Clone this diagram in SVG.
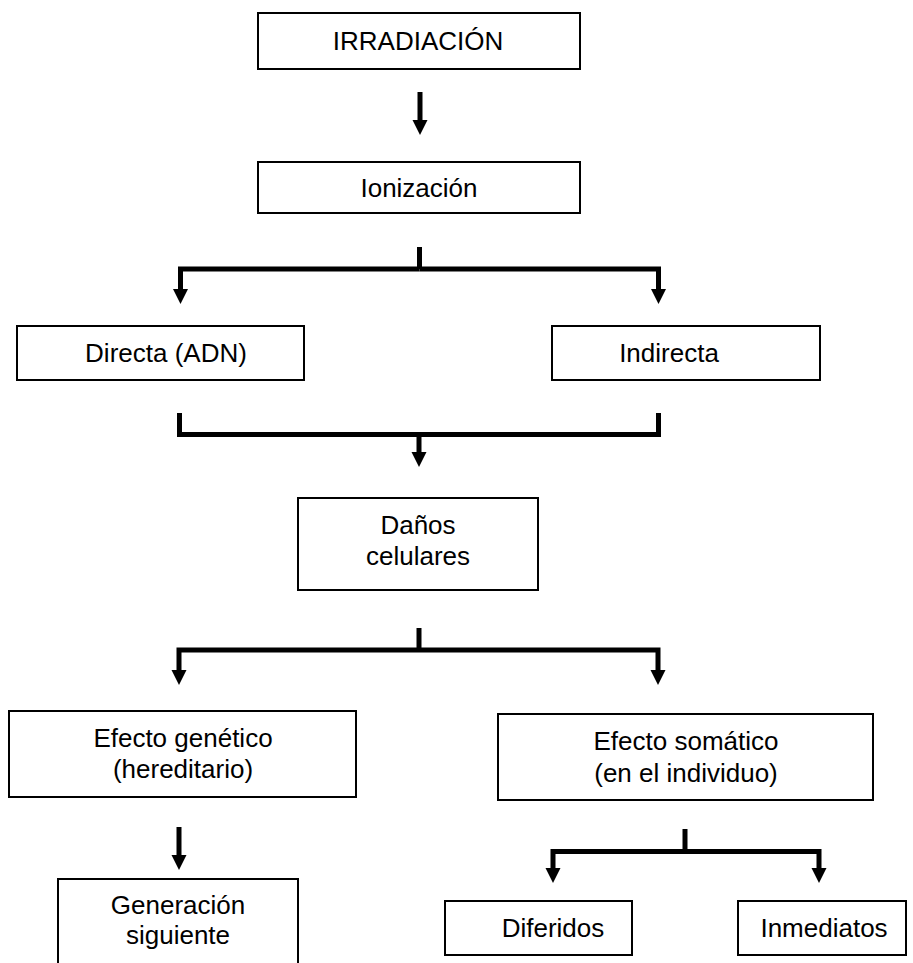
<svg xmlns="http://www.w3.org/2000/svg" width="913" height="963" viewBox="0 0 913 963">
<style>
.box{fill:#fff;stroke:#000;stroke-width:2}
.t{font-family:"Liberation Sans",Arial,sans-serif;font-size:26px;fill:#000;text-anchor:middle}
.c{fill:none;stroke:#000;stroke-width:5;stroke-linejoin:miter;stroke-linecap:butt}
</style>
<defs>
<marker id="ah" markerUnits="userSpaceOnUse" markerWidth="15" markerHeight="15" refX="0" refY="7.5" orient="auto" viewBox="0 0 15 15" overflow="visible">
<path d="M0,0 L15,7.5 L0,15 z" fill="#000"/>
</marker>
</defs>
<rect width="913" height="963" fill="#fff"/>
<g id="connectors">
<path class="c" d="M420,92 V120" marker-end="url(#ah)"/>
<path class="c" d="M419.5,247 V269"/>
<path class="c" d="M419.5,269 H180.5 V289" marker-end="url(#ah)"/>
<path class="c" d="M419.5,269 H658.5 V289" marker-end="url(#ah)"/>
<path class="c" d="M179.5,413 V434.5 H658.5 V413"/>
<path class="c" d="M419,434.5 V452" marker-end="url(#ah)"/>
<path class="c" d="M419,628 V650"/>
<path class="c" d="M419,650 H179 V670" marker-end="url(#ah)"/>
<path class="c" d="M419,650 H658 V670" marker-end="url(#ah)"/>
<path class="c" d="M179,827 V855" marker-end="url(#ah)"/>
<path class="c" d="M685,829 V851.5"/>
<path class="c" d="M685,851.5 H553 V868" marker-end="url(#ah)"/>
<path class="c" d="M685,851.5 H819 V868" marker-end="url(#ah)"/>
</g>
<g id="irradiacion"><rect class="box" x="258" y="13" width="322" height="56"/><text class="t" x="418" y="50">IRRADIACIÓN</text></g>
<g id="ionizacion"><rect class="box" x="258" y="162" width="322" height="51"/><text class="t" x="419" y="197">Ionización</text></g>
<g id="directa"><rect class="box" x="17" y="326" width="287" height="54"/><text class="t" x="166" y="362">Directa (ADN)</text></g>
<g id="indirecta"><rect class="box" x="552" y="326" width="268" height="54"/><text class="t" x="669" y="362">Indirecta</text></g>
<g id="danos"><rect class="box" x="298" y="498" width="240" height="92"/><text class="t" x="418" y="534">Daños</text><text class="t" x="418" y="565">celulares</text></g>
<g id="genetico"><rect class="box" x="9" y="711" width="347" height="86"/><text class="t" x="183" y="747">Efecto genético</text><text class="t" x="183" y="778">(hereditario)</text></g>
<g id="somatico"><rect class="box" x="498" y="714" width="375" height="86"/><text class="t" x="686" y="750">Efecto somático</text><text class="t" x="686" y="782">(en el individuo)</text></g>
<g id="generacion"><rect class="box" x="58" y="879" width="240" height="110"/><text class="t" x="178" y="914">Generación</text><text class="t" x="178" y="944">siguiente</text></g>
<g id="diferidos"><rect class="box" x="445" y="901" width="187" height="54"/><text class="t" x="553" y="937">Diferidos</text></g>
<g id="inmediatos"><rect class="box" x="738" y="901" width="168" height="54"/><text class="t" x="824" y="937">Inmediatos</text></g>
</svg>
